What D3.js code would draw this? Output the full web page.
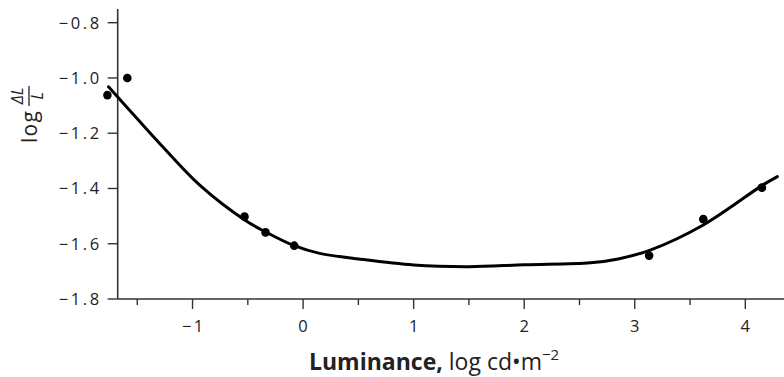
<!DOCTYPE html>
<html>
<head>
<meta charset="utf-8">
<script src="https://cdn.jsdelivr.net/npm/d3@7"></script>
<style>
  html, body { margin: 0; padding: 0; background: #fff; }
  svg { display: block; }
  text { font-family: "Open Sans", "Noto Sans", sans-serif; fill: #222; }
</style>
</head>
<body>
<svg id="chart" width="784" height="377"></svg>
<script>
// ---- data ----
const pointX = [-1.77, -1.59, -0.53, -0.34, -0.08, 3.13, 3.62, 4.15];
const pointY = [-1.062, -1.0, -1.502, -1.559, -1.607, -1.643, -1.511, -1.397];
const curveX = [-1.76, -1.5, -1.27, -0.93, -0.525, -0.34, -0.08, 0.15, 0.5, 1.0, 1.5, 2.0, 2.6, 2.85, 3.14, 3.62, 4.16, 4.29];
const curveY = [-1.032, -1.148, -1.249, -1.39, -1.515, -1.557, -1.607, -1.635, -1.655, -1.677, -1.683, -1.676, -1.669, -1.655, -1.623, -1.532, -1.387, -1.357];
const xMajorTicks = [-1, 0, 1, 2, 3, 4];
const xMinorTicks = [-1.5, -0.5, 0.5, 1.5, 2.5, 3.5];
const yTicks = [-1.8, -1.6, -1.4, -1.2, -1.0, -0.8];
const xTitleBold = "Luminance,";
const xTitleRest = " log cd\u2022m";
const xTitleSup = "\u22122";

const svg = d3.select("#chart");
const x = d3.scaleLinear().domain([-1.677, 4.35]).range([117.7, 784]);
const y = d3.scaleLinear().domain([-1.8, -0.8]).range([299, 22.7]);
const fmt = v => (v < 0 ? "\u2212" : "") + Math.abs(v).toFixed(1);
const axisColor = "#333";

// x axis
const gx = svg.append("g").attr("transform", `translate(0,${y(-1.8)})`);
gx.append("line").attr("x1", x(-1.677)).attr("x2", 784).attr("y1", 0).attr("y2", 0)
  .attr("stroke", axisColor).attr("stroke-width", 1.6);
gx.selectAll(".maj").data(xMajorTicks).enter().append("line")
  .attr("x1", d => x(d)).attr("x2", d => x(d)).attr("y1", 0).attr("y2", 10)
  .attr("stroke", axisColor).attr("stroke-width", 1.4);
gx.selectAll(".min").data(xMinorTicks).enter().append("line")
  .attr("x1", d => x(d)).attr("x2", d => x(d)).attr("y1", 0).attr("y2", 6)
  .attr("stroke", axisColor).attr("stroke-width", 1.4);
gx.selectAll(".lab").data(xMajorTicks).enter().append("text")
  .attr("x", d => x(d) + 1.2).attr("y", 33).attr("text-anchor", "middle")
  .attr("font-size", 16.5).attr("letter-spacing", 2.4)
  .text(d => (d < 0 ? "\u2212" : "") + Math.abs(d));

// y axis
const gy = svg.append("g").attr("transform", `translate(${x(-1.677)},0)`);
gy.append("line").attr("x1", 0).attr("x2", 0).attr("y1", y(-0.75)).attr("y2", y(-1.8))
  .attr("stroke", axisColor).attr("stroke-width", 1.6);
gy.selectAll(".tk").data(yTicks).enter().append("line")
  .attr("x1", -10).attr("x2", 0).attr("y1", d => y(d)).attr("y2", d => y(d))
  .attr("stroke", axisColor).attr("stroke-width", 1.4);
gy.selectAll(".lab").data(yTicks).enter().append("text")
  .attr("x", -16).attr("y", d => y(d)).attr("dy", "0.36em").attr("text-anchor", "end")
  .attr("font-size", 16.5).attr("letter-spacing", 2.6)
  .text(fmt);

// curve
const line = d3.line().x(d => x(d[0])).y(d => y(d[1])).curve(d3.curveCatmullRom.alpha(0.5));
svg.append("path").datum(curveX.map((v, i) => [v, curveY[i]]))
  .attr("d", line).attr("fill", "none").attr("stroke", "#000").attr("stroke-width", 3)
  .attr("stroke-linecap", "round");

// points
svg.selectAll(".pt").data(pointX.map((v, i) => [v, pointY[i]])).enter().append("circle")
  .attr("cx", d => x(d[0])).attr("cy", d => y(d[1])).attr("r", 4.3).attr("fill", "#000");

// x title
const xt = svg.append("text").attr("x", 309).attr("y", 370).attr("text-anchor", "start")
  .attr("font-size", 23);
xt.append("tspan").attr("font-weight", "bold").text(xTitleBold);
xt.append("tspan").text(xTitleRest);
xt.append("tspan").attr("dy", -10).attr("font-size", 15).text(xTitleSup);

// y title (rotated)
const yt = svg.append("g").attr("transform", "translate(37,143) rotate(-90)");
yt.append("text").attr("x", 0).attr("y", 0).attr("font-size", 21).attr("letter-spacing", 1.3).text("log");
yt.append("text").attr("x", 47).attr("y", -14).attr("text-anchor", "middle")
  .attr("font-size", 16).attr("font-style", "italic").text("\u0394L");
yt.append("line").attr("x1", 37).attr("x2", 57).attr("y1", -8).attr("y2", -8)
  .attr("stroke", "#222").attr("stroke-width", 1.3);
yt.append("text").attr("x", 47).attr("y", 6).attr("text-anchor", "middle")
  .attr("font-size", 16).attr("font-style", "italic").text("L");
</script>
</body>
</html>
